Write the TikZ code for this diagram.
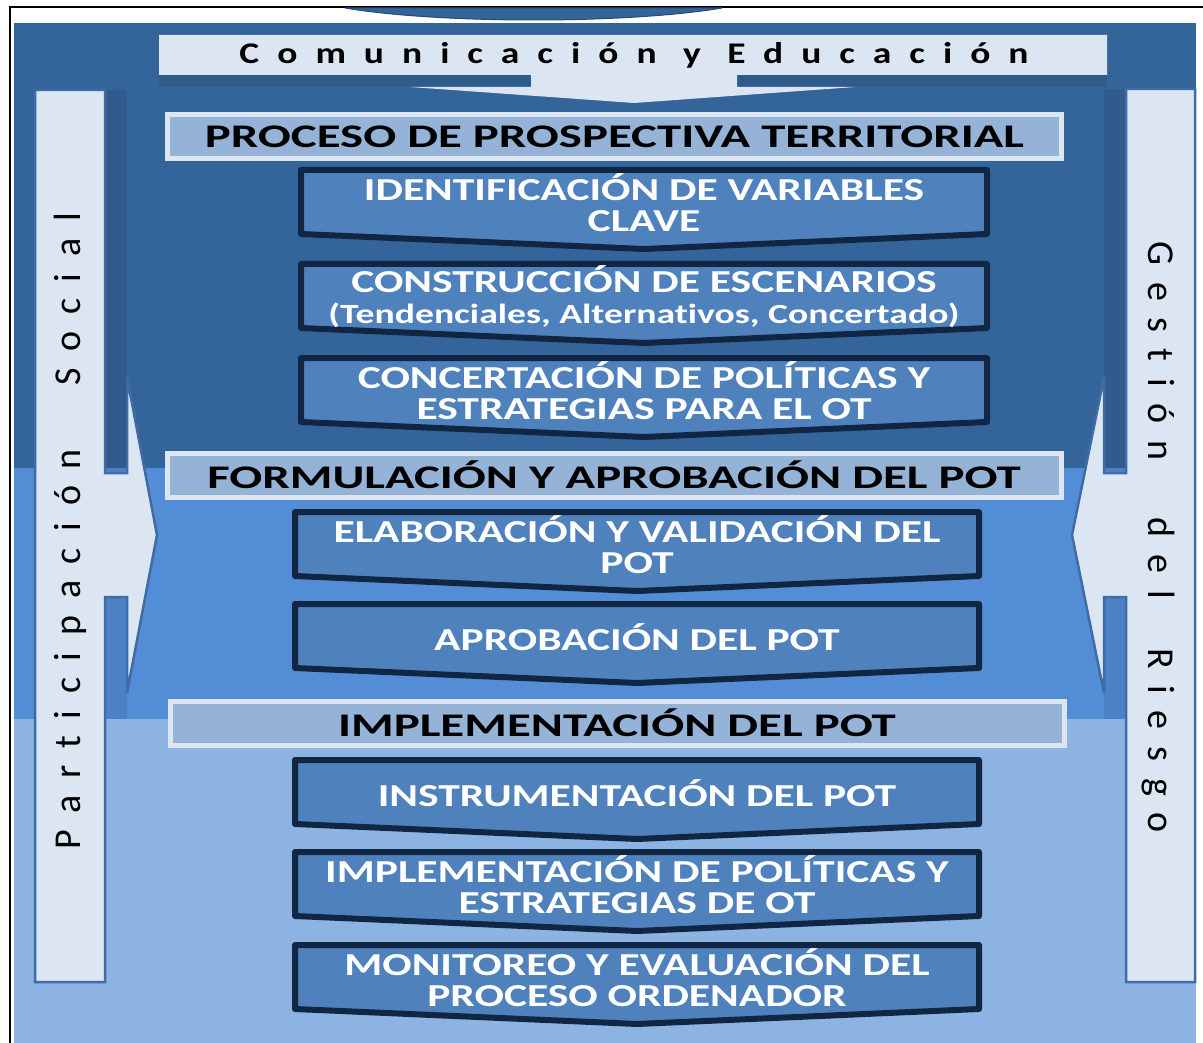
\documentclass[tikz,border=0pt]{standalone}
\usepackage{fontspec}
\setmainfont{Carlito}[Ligatures=NoCommon]
\newfontfamily\bannerfont[FakeStretch=1.25, LetterSpace=60, Ligatures=NoCommon]{Carlito}
\newfontfamily\sidefont[LetterSpace=44, Ligatures=NoCommon]{Carlito}
\newfontfamily\hdrfont[FakeStretch=1.48, Ligatures=NoCommon]{Carlito}
\newfontfamily\boxfont[FakeStretch=1.36, Ligatures=NoCommon]{Carlito}
\definecolor{bandA}{RGB}{51,100,154}
\definecolor{bandB}{RGB}{83,141,213}
\definecolor{bandC}{RGB}{141,179,226}
\definecolor{paleblue}{RGB}{220,230,242}
\definecolor{hdrfill}{RGB}{149,179,215}
\definecolor{boxfill}{RGB}{79,129,189}
\definecolor{boxline}{RGB}{16,38,66}
\definecolor{stripline}{RGB}{64,108,165}
\tikzset{
  hdr/.style={draw=paleblue, fill=hdrfill, line width=5pt, inner sep=0pt,
    minimum width=894pt, minimum height=44pt,
    font=\hdrfont\bfseries\fontsize{33}{33}\selectfont, text=black},
  chevshape/.style={fill=boxfill, draw=boxline, line width=6pt, line join=round},
  chevtext/.style={text=white, align=center, inner sep=0pt,
    font=\boxfont\bfseries\fontsize{32}{31}\selectfont},
  shadowbar/.style={fill=black, opacity=0.08},
  stripshape/.style={fill=paleblue, draw=stripline, line width=2.5pt},
  sidetext/.style={inner sep=0pt, font=\sidefont\fontsize{38}{38}\selectfont}
}
% #1 name, #2 left, #3 right, #4 outer top, #5 text
\newcommand{\chevbox}[5]{%
  \path[chevshape] (#2+3,#4+3) -- (#3-3,#4+3) -- (#3-3,#4+67) -- ({(#2+#3)/2},#4+82) -- (#2+3,#4+67) -- cycle;
  \node[chevtext] (#1) at ({(#2+#3)/2},#4+36) {#5};
}
\begin{document}
\begin{tikzpicture}[x=1pt,y=-1pt]
\useasboundingbox (0,0) rectangle (1203,1043);
\fill[white] (0,0) rectangle (1203,1043);
% bands
\fill[bandA] (14,23) rectangle (1196,468);
\fill[bandB] (14,468) rectangle (1196,719);
\fill[bandC] (14,719) rectangle (1196,1043);
% frame
\draw[line width=2pt] (10,1043) -- (10,7) -- (1203,7);
% top lens
\filldraw[fill=bandA, draw=bandA!75!black, line width=1pt] (345,8) .. controls (440,24) and (627,24) .. (722,8) -- cycle;
% banner
\fill[shadowbar] (159,75) rectangle (531,87);
\fill[shadowbar] (737,75) rectangle (1107,87);
\path[fill=paleblue] (159,35) -- (1107,35) -- (1107,75) -- (737,75) -- (737,87) -- (855,87) -- (634,103) -- (410,87) -- (531,87) -- (531,75) -- (159,75) -- cycle;
\node[inner sep=0pt] (comm) at (634,55) {\bannerfont\bfseries\fontsize{30}{30}\selectfont Comunicación y Educación};
% left strip
\fill[shadowbar] (105,90) rectangle (127,473);
\fill[shadowbar] (105,597) rectangle (127,719);
\path[stripshape] (35,90) -- (105,90) -- (105,473) -- (127,473) -- (127,377) -- (157,535) -- (127,693) -- (127,597) -- (105,597) -- (105,982) -- (35,982) -- cycle;
\node[sidetext, rotate=90] (part) at (70,531) {Participación\hspace{38pt} Social};
% right strip
\fill[shadowbar] (1104,89) rectangle (1126,473);
\fill[shadowbar] (1104,597) rectangle (1126,719);
\path[stripshape] (1126,89) -- (1195,89) -- (1195,982) -- (1126,982) -- (1126,597) -- (1104,597) -- (1104,693) -- (1072,535) -- (1104,377) -- (1104,473) -- (1126,473) -- cycle;
\node[sidetext, rotate=-90] (gest) at (1158,537) {Gestión\hspace{32pt} del\hspace{24pt} Riesgo};
% headers
\node[hdr] (h1) at (614.5,136.5) {PROCESO DE PROSPECTIVA TERRITORIAL};
\node[hdr] (h2) at (614,475) {FORMULACIÓN Y APROBACIÓN DEL POT};
\node[hdr] (h3) at (617,723) {IMPLEMENTACIÓN DEL POT};
% boxes
\chevbox{b1}{298}{990}{167}{IDENTIFICACIÓN DE VARIABLES\\CLAVE}
\chevbox{b2}{298}{990}{261}{CONSTRUCCIÓN DE ESCENARIOS\\{\fontsize{27.7}{28}\selectfont(Tendenciales, Alternativos, Concertado)}}
\chevbox{b3}{298}{990}{355}{CONCERTACIÓN DE POLÍTICAS Y\\ESTRATEGIAS PARA EL OT}
\chevbox{b4}{292}{982}{509}{ELABORACIÓN Y VALIDACIÓN DEL\\POT}
\chevbox{b5}{292}{982}{601}{APROBACIÓN DEL POT}
\chevbox{b6}{292}{982}{757}{INSTRUMENTACIÓN DEL POT}
\chevbox{b7}{292}{982}{849}{IMPLEMENTACIÓN DE POLÍTICAS Y\\ESTRATEGIAS DE OT}
\chevbox{b8}{292}{982}{942}{MONITOREO Y EVALUACIÓN DEL\\PROCESO ORDENADOR}
\end{tikzpicture}
\end{document}
